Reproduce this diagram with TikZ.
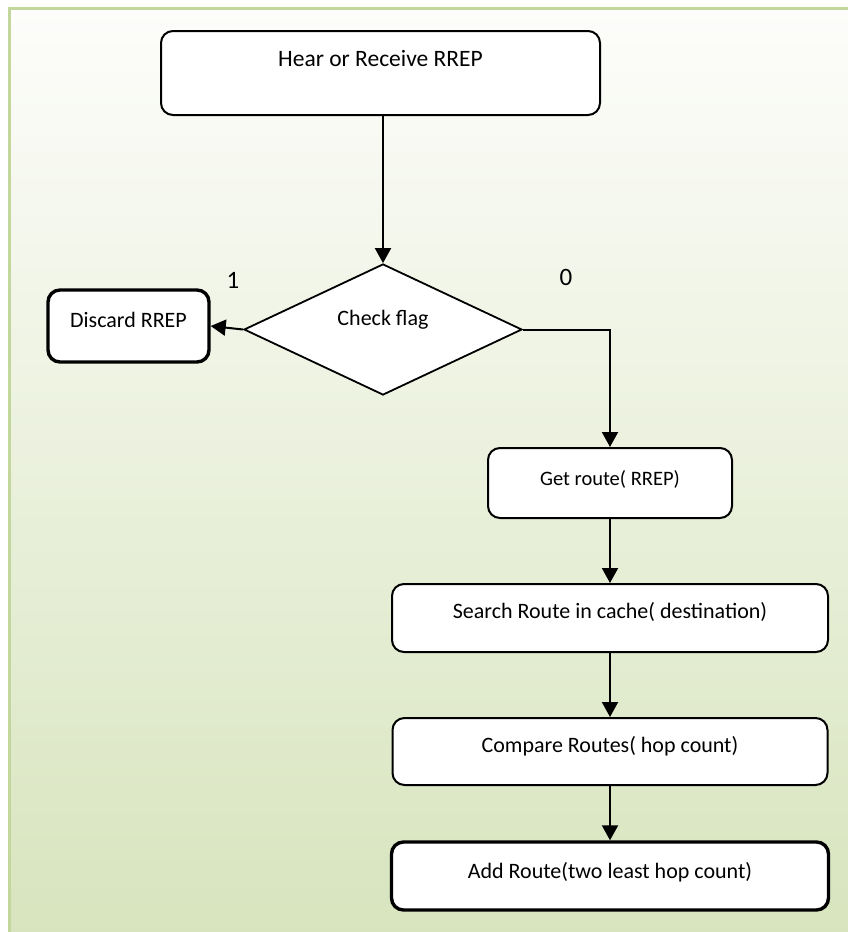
\documentclass[tikz,border=0pt]{standalone}
\usepackage{fontspec}
\setmainfont{Carlito}
\usetikzlibrary{arrows.meta,shapes.geometric}
\definecolor{panelTop}{RGB}{253,253,251}
\definecolor{panelBottom}{RGB}{215,228,189}
\definecolor{panelEdge}{RGB}{195,214,155}
\begin{document}
\begin{tikzpicture}[x=1pt,y=-1pt,
  stepbox/.style={draw=black, line width=2pt, rounded corners=12pt, fill=white, inner sep=0pt},
  endbox/.style={stepbox, line width=3.4pt},
  decision/.style={draw=black, line width=1.8pt, fill=white, diamond, inner sep=0pt},
  caption/.style={font=\fontsize{22}{26}\selectfont, anchor=base, inner sep=0pt},
  digit/.style={font=\fontsize{25}{30}\selectfont, anchor=base, inner sep=0pt},
  flow/.style={line width=2pt, -{Triangle[length=15pt,width=16pt]}},
]
% page and green gradient panel
\fill[white] (0,0) rectangle (848,932);
\useasboundingbox (0,0) rectangle (848,932);
\shade[top color=panelTop, bottom color=panelBottom] (9,8.5) rectangle (860,945);
\draw[panelEdge, line width=3pt] (9,945) -- (9,8.5) -- (860,8.5);

% steps
\node[stepbox, minimum width=439pt, minimum height=84pt] (hear) at (380.5,73) {};
\node[caption, font=\fontsize{23.5}{28}\selectfont] (hearT) at (380.5,66) {Hear or Receive RREP};

\node[decision, minimum width=278pt, minimum height=131pt] (flag) at (383,329.5) {};
\node[caption] (flagT) at (383,325) {Check flag};

\node[endbox, minimum width=161pt, minimum height=72pt] (discard) at (128.5,326) {};
\node[caption] (discardT) at (128.5,327) {Discard RREP};

\node[stepbox, minimum width=244pt, minimum height=70pt] (get) at (610,483) {};
\node[caption, font=\fontsize{20.5}{24}\selectfont] (getT) at (610,485) {Get route( RREP)};

\node[stepbox, minimum width=436pt, minimum height=68pt] (search) at (610,618) {};
\node[caption] (searchT) at (610,618) {Search Route in cache( destination)};

\node[stepbox, minimum width=435pt, minimum height=67pt] (compare) at (610,751.5) {};
\node[caption] (compareT) at (610,752) {Compare Routes( hop count)};

\node[endbox, minimum width=437pt, minimum height=68pt] (add) at (610,876) {};
\node[caption] (addT) at (610,878) {Add Route(two least hop count)};

% branch labels
\node[digit] (one) at (233,288) {1};
\node[digit] (zero) at (566,285) {0};

% connectors
\draw[flow] (flag.north |- hear.south) -- (flag.north);
\draw[flow] (flag.west) -- (discard.east);
\draw[flow] (flag.east) -| (get.north);
\draw[flow] (get.south) -- (search.north);
\draw[flow] (search.south) -- (compare.north);
\draw[flow] (compare.south) -- (add.north);
\end{tikzpicture}
\end{document}
